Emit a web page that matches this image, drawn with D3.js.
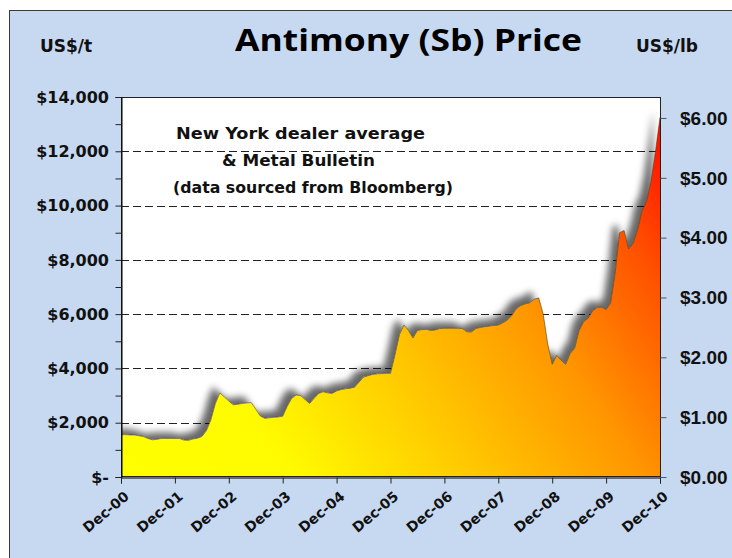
<!DOCTYPE html>
<html><head><meta charset="utf-8">
<script src="https://cdn.jsdelivr.net/npm/d3@7"></script>
<style>body{margin:0;background:#fff}svg{display:block}</style>
</head><body>
<script>
// ---- data ----
const xTickLabels = ["Dec-00","Dec-01","Dec-02","Dec-03","Dec-04","Dec-05","Dec-06","Dec-07","Dec-08","Dec-09","Dec-10"];
// monthly antimony price, US$/t, Dec-2000 .. Dec-2010
const priceUSDt = [
 1560,1560,1550,1550,1520,1490,1420,1370,1390,1420,1420,1420,
 1420,1420,1360,1350,1400,1430,1490,1700,2100,2700,3100,2950,
 2800,2660,2680,2710,2730,2740,2500,2250,2160,2180,2200,2210,
 2240,2600,2900,3020,3000,2850,2710,2900,3080,3140,3100,3080,
 3170,3220,3250,3270,3310,3500,3680,3730,3780,3800,3810,3820,
 3820,4500,5250,5600,5400,5120,5400,5430,5440,5400,5420,5470,
 5480,5480,5480,5480,5470,5350,5340,5470,5510,5540,5560,5580,
 5600,5680,5780,5950,6200,6320,6380,6420,6550,6600,6000,4900,
 4150,4480,4300,4150,4550,4750,5400,5720,5850,6120,6250,6260,
 6170,6400,7500,9000,9080,8400,8600,9100,9800,10150,10900,12000,
 13250];
const leftTicks = [0,1000,2000,3000,4000,5000,6000,7000,8000,9000,10000,11000,12000,13000,14000];
const leftLabelTicks = [0,2000,4000,6000,8000,10000,12000,14000];
const gridTicks = [2000,4000,6000,8000,10000,12000];
const rightTicks = [0,1,2,3,4,5,6];
const LB_PER_T = 2204.62;
const title = "Antimony (Sb) Price";
const noteLines = ["New York dealer average","& Metal Bulletin","(data sourced from Bloomberg)"];

// ---- layout ----
const W = 732, H = 558;
const L = 121, R = 660, T = 97, B = 477;

const svg = d3.select("body").append("svg").attr("width", W).attr("height", H);
const defs = svg.append("defs");

const grad = defs.append("linearGradient").attr("id","fillg")
  .attr("gradientUnits","userSpaceOnUse")
  .attr("x1",L).attr("y1",B).attr("x2",R).attr("y2",T);
[[0,"#FFFF00"],[0.22,"#FFFA00"],[0.45,"#FFC600"],[0.65,"#FF9600"],[0.85,"#FF4C00"],[1,"#FF0000"]]
  .forEach(([o,c]) => grad.append("stop").attr("offset",o).attr("stop-color",c));

const f = defs.append("filter").attr("id","sh").attr("x","-20%").attr("y","-20%").attr("width","140%").attr("height","140%");
f.append("feGaussianBlur").attr("in","SourceAlpha").attr("stdDeviation",3.5).attr("result","bl");
f.append("feOffset").attr("in","bl").attr("dx",-7).attr("dy",-6).attr("result","off");
f.append("feFlood").attr("flood-color","#000").attr("flood-opacity",0.6).attr("result","fl");
f.append("feComposite").attr("in","fl").attr("in2","off").attr("operator","in").attr("result","shadow");
const fm = f.append("feMerge");
fm.append("feMergeNode").attr("in","shadow");
fm.append("feMergeNode").attr("in","SourceGraphic");

defs.append("clipPath").attr("id","plotclip").append("rect")
  .attr("x",L).attr("y",T).attr("width",R-L+1).attr("height",B-T);

// outer chart box
svg.append("rect").attr("x",9.5).attr("y",10.5).attr("width",W+20).attr("height",H+20)
  .attr("fill","#C6D9F1").attr("stroke","#3a3a3a").attr("stroke-width",1);

const x = d3.scaleLinear().domain([0, priceUSDt.length-1]).range([L, R]);
const y = d3.scaleLinear().domain([0, 14000]).range([B, T]);
const y2 = d3.scaleLinear().domain([0, 14000/LB_PER_T]).range([B, T]);

// plot area
svg.append("rect").attr("x",L).attr("y",T).attr("width",R-L+1).attr("height",B-T).attr("fill","#fff");

// gridlines
svg.append("g").selectAll("line").data(gridTicks).join("line")
  .attr("x1",L).attr("x2",R).attr("y1",d=>Math.round(y(d))+0.5).attr("y2",d=>Math.round(y(d))+0.5)
  .attr("stroke","#222").attr("stroke-width",1.2).attr("stroke-dasharray","8,4");

// area
const area = d3.area().x((d,i)=>x(i)).y0(B).y1(d=>y(d));
const line = d3.line().x((d,i)=>x(i)).y(d=>y(d));
const ag = svg.append("g").attr("clip-path","url(#plotclip)");
ag.append("path").datum(priceUSDt).attr("d",area).attr("fill","url(#fillg)").attr("filter","url(#sh)");
ag.append("path").datum(priceUSDt).attr("d",line).attr("fill","none").attr("stroke","#4a3a00").attr("stroke-width",0.7).attr("stroke-opacity",0.8);

// plot border
svg.append("rect").attr("x",L+0.5).attr("y",T+0.5).attr("width",R-L).attr("height",B-T-1)
  .attr("fill","none").attr("stroke","#222").attr("stroke-width",1);

// left axis
const yAxis = d3.axisLeft(y).tickValues(leftTicks).tickSize(6).tickFormat("");
const ga = svg.append("g").attr("transform",`translate(${L+0.5},0)`).call(yAxis);
ga.select(".domain").attr("stroke","#000");
ga.selectAll(".tick line").attr("stroke","#222");
svg.append("g").selectAll("text").data(leftLabelTicks).join("text")
  .attr("x",109).attr("y",d=>y(d)).attr("dy","0.36em").attr("text-anchor","end")
  .attr("font-family","'DejaVu Sans', Verdana, sans-serif").attr("font-weight","bold")
  .attr("font-size",16).attr("fill","#111")
  .text(d => d===0 ? "$-" : "$" + d3.format(",")(d));

// right axis
const y2Axis = d3.axisRight(y2).tickValues(rightTicks).tickSize(6).tickFormat("");
const gr = svg.append("g").attr("transform",`translate(${R+0.5},0)`).call(y2Axis);
gr.select(".domain").remove();
gr.selectAll(".tick line").attr("stroke","#555");
svg.append("g").selectAll("text").data(rightTicks).join("text")
  .attr("x",680).attr("y",d=>y2(d)).attr("dy","0.36em")
  .attr("font-family","'Liberation Sans', Arial, sans-serif").attr("font-weight","bold")
  .attr("font-size",19).attr("fill","#111")
  .text(d => "$" + d3.format(".2f")(d));

// x axis
const xAxis = d3.axisBottom(x).tickValues(d3.range(0, priceUSDt.length, 12)).tickSize(6).tickFormat("");
const gx = svg.append("g").attr("transform",`translate(0,${B+0.5})`).call(xAxis);
gx.select(".domain").attr("stroke","#000");
gx.selectAll(".tick line").attr("stroke","#222");
svg.append("g").selectAll("text").data(xTickLabels).join("text")
  .attr("transform",(d,i)=>`translate(${x(i*12)+9},${B+21}) rotate(-40)`)
  .attr("text-anchor","end")
  .attr("font-family","'DejaVu Sans', Verdana, sans-serif").attr("font-weight","bold")
  .attr("font-size",14).attr("fill","#111")
  .text(d=>d);

// titles
svg.append("text").attr("x",235).attr("y",51).attr("textLength",347).attr("lengthAdjust","spacingAndGlyphs")
  .attr("font-family","'Open Sans', sans-serif").attr("font-weight","bold").attr("font-size",31).attr("fill","#000")
  .text(title);
svg.append("text").attr("x",66).attr("y",52).attr("text-anchor","middle")
  .attr("font-family","'DejaVu Sans', sans-serif").attr("font-weight","bold").attr("font-size",17).attr("fill","#111")
  .text("US$/t");
svg.append("text").attr("x",667).attr("y",52).attr("text-anchor","middle")
  .attr("font-family","'DejaVu Sans', sans-serif").attr("font-weight","bold").attr("font-size",17).attr("fill","#111")
  .text("US$/lb");

// note
const noteX = [176, 222, 173], noteW = [249, 153, 280], noteY = [139, 166, 193];
svg.append("g").selectAll("text").data(noteLines).join("text")
  .attr("x",(d,i)=>noteX[i]).attr("y",(d,i)=>noteY[i])
  .attr("textLength",(d,i)=>noteW[i]).attr("lengthAdjust","spacingAndGlyphs")
  .attr("font-family","'DejaVu Sans', sans-serif").attr("font-weight","bold").attr("font-size",16).attr("fill","#111")
  .text(d=>d);
</script>
</body></html>
